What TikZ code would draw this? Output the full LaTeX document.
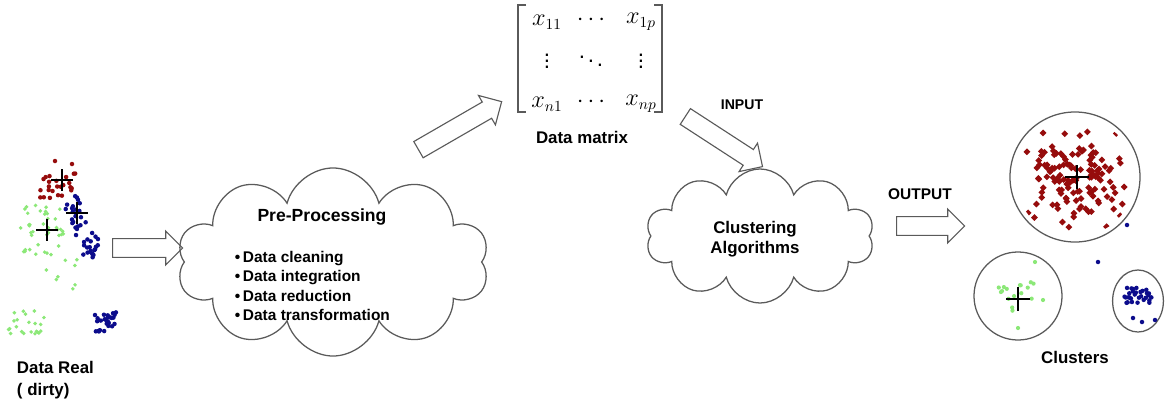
\documentclass[tikz,border=0pt]{standalone}
\usepackage{amsmath,amssymb}
\usepackage{fontspec}
\setmainfont{Liberation Sans}
\usepackage{xcolor}
\usepackage{tikz}
\usetikzlibrary{shapes.symbols,shapes.arrows,shapes.geometric}
\definecolor{clred}{RGB}{150,12,12}
\definecolor{clgreen}{RGB}{140,232,120}
\definecolor{clblue}{RGB}{12,12,140}
\definecolor{edge}{RGB}{90,90,90}

\begin{document}
\begin{tikzpicture}[x=0.025cm,y=-0.025cm]
		\tikzstyle{every node}+=[font=\bfseries]
		\tikzstyle{cl}=[draw=edge,line width=0.9pt,cloud,cloud puffs=10,aspect=1.7,inner sep=0pt]
		\tikzstyle{blk}=[draw=edge,line width=0.8pt,single arrow,single arrow head extend=0.19cm,inner xsep=0pt,inner ysep=0.22cm]
		\tikzstyle{ring}=[draw=edge,line width=0.9pt,inner sep=0pt]
		\tikzstyle{cross}=[black,line width=0.8pt]
		\useasboundingbox (0,0) rectangle (1166,402);
		\pgfmathsetseed{17}
		% dirty data
		\foreach \i in {1,...,40}
			\fill[clgreen] ({42+22*rand},{230+25*rand}) circle[radius=1.4pt];
		\foreach \i in {1,...,8}
			\fill[clgreen] ({58+20*rand},{272+18*rand}) circle[radius=1.4pt];
		\foreach \i in {1,...,22}
			\fill[clgreen] ({25+20*rand},{322+12*rand}) circle[radius=1.4pt];
		\foreach \i in {1,...,24}
			\fill[clred] ({60+20*rand},{185+13*rand}) circle[radius=1.6pt];
		\fill[clred] (55,161) circle[radius=1.6pt] (72,164) circle[radius=1.6pt];
		\foreach \i in {1,...,42}{
			\pgfmathsetmacro\u{rand}
			\pgfmathsetmacro\v{rand}
			\fill[clblue] ({82+14*\u+9*\v},{228+30*\u-5*\v}) circle[radius=1.6pt];
		}
		\foreach \i in {1,...,26}
			\fill[clblue] ({105+11*rand},{322+10*rand}) circle[radius=1.6pt];
		\foreach \p in {(62,180),(77,213),(47,230)}
			\draw[cross] \p +(-11,0) -- +(11,0) +(0,-11) -- +(0,11);
		\node[align=left,anchor=north west,font=\bfseries\fontsize{12}{16}\selectfont] (dirty) at (12,356) {Data Real\\( dirty)};
		% pre-processing
		\node[blk,minimum height=1.75cm] (a1) at (143,248) {};
		\node[cl,minimum width=7.8cm,minimum height=4.7cm] (pre) at (333,262) {};
		\node[font=\bfseries\fontsize{12.5}{15}\selectfont] (pretitle) at (322,217) {Pre-Processing};
		\node[anchor=west,align=left,font=\bfseries\fontsize{11}{13.9}\selectfont] (prelist) at (230,286)
			{\textbullet\,Data cleaning\\\textbullet\,Data integration\\\textbullet\,Data reduction\\\textbullet\,Data transformation};
		% data matrix
		\node[blk,minimum height=2.4cm,rotate=30] (a2) at (456,128) {};
		\draw[edge,line width=0.9pt] (526,5) -- (518,5) -- (518,112) -- (526,112);
		\draw[edge,line width=0.9pt] (654,5) -- (662,5) -- (662,112) -- (654,112);
		\tikzstyle{every node}=[font=\fontsize{16}{19}\selectfont,inner sep=0.5pt]
		\node (m11) at (547,22) {$x_{11}$};
		\node (m12) at (593,20) {$\cdots$};
		\node (m13) at (641,22) {$x_{1p}$};
		\node (m21) at (547,68) {$\smash{\vdots}$};
		\node (m22) at (591,68) {$\smash{\ddots}$};
		\node (m23) at (641,68) {$\smash{\vdots}$};
		\node (m31) at (547,104) {$x_{n1}$};
		\node (m32) at (593,102) {$\cdots$};
		\node (m33) at (641,104) {$x_{np}$};
		\tikzstyle{every node}=[font=\bfseries]
		\node[font=\bfseries\fontsize{12}{14}\selectfont] (matlbl) at (582,137) {Data matrix};
		\node[font=\bfseries\fontsize{10}{12}\selectfont] (inlbl) at (742,105) {INPUT};
		% clustering
		\node[blk,minimum height=2.3cm,rotate=-33] (a3) at (720,139) {};
		\node[cl,minimum width=5.7cm,minimum height=3.35cm] (alg) at (760,236) {};
		\node[align=center,font=\bfseries\fontsize{12}{14.5}\selectfont] (alglbl) at (755,239) {Clustering\\Algorithms};
		\node[font=\bfseries\fontsize{11}{13}\selectfont] (outlbl) at (920,194) {OUTPUT};
		\node[blk,minimum height=1.7cm] (a4) at (926,226) {};
		% clusters
		\node[ring,circle,minimum size=3.25cm] (cred) at (1075,177) {};
		\node[ring,circle,minimum size=2.2cm] (cgreen) at (1018,296) {};
		\node[ring,ellipse,minimum width=1.27cm,minimum height=1.55cm] (cblue) at (1138,301) {};
		\begin{scope}
			\clip (1075,177) circle[radius=1.5cm];
			\foreach \i in {1,...,130}{
				\pgfmathsetmacro\u{rand+rand}
				\pgfmathsetmacro\v{rand+rand}
				\fill[clred] ({1075+27*\u},{177+27*\v}) +(0,3.4) -- +(3.4,0) -- +(0,-3.4) -- +(-3.4,0) -- cycle;
			}
		\end{scope}
		\foreach \i in {1,...,16}
			\fill[clgreen] ({1015+20*rand},{298+16*rand}) circle[radius=1.5pt];
		\fill[clgreen] (1035,262) circle[radius=1.5pt] (1018,328) circle[radius=1.5pt] (1043,300) circle[radius=1.5pt];
		\foreach \i in {1,...,30}
			\fill[clblue] ({1138+14*rand},{295+8*rand}) circle[radius=1.6pt];
		\fill[clblue] (1133,318) circle[radius=1.6pt] (1142,322) circle[radius=1.6pt] (1155,320) circle[radius=1.6pt]
			(1127,225) circle[radius=1.6pt] (1098,262) circle[radius=1.6pt];
		\draw[cross] (1077,177) +(-12,0) -- +(12,0) +(0,-12) -- +(0,12);
		\draw[cross] (1018,299) +(-12,0) -- +(12,0) +(0,-12) -- +(0,12);
		\node[font=\bfseries\fontsize{12}{14}\selectfont] (clbl) at (1075,357) {Clusters};
\end{tikzpicture}
\end{document}
